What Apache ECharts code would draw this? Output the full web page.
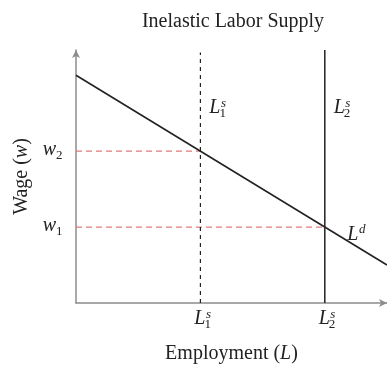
<!DOCTYPE html>
<html>
<head>
<meta charset="utf-8">
<script src="https://cdn.jsdelivr.net/npm/echarts@6/dist/echarts.min.js"></script>
<style>
  html, body { margin: 0; padding: 0; background: #ffffff; }
  #chart { width: 387px; height: 369px; }
</style>
</head>
<body>
<div id="chart"></div>
<script>
// ---- data ----
const titleText = 'Inelastic Labor Supply';
const xAxisName = 'Employment';
const xAxisVar = 'L';
const yAxisName = 'Wage';
const yAxisVar = 'w';
const supplyX = [4, 8];          // L1s, L2s
const supplyIdx = ['1', '2'];
const supplyTopY = [9.9, 10];    // top of each supply line
const wageY = [3, 6];            // w1, w2
const wageIdx = ['1', '2'];
const wageEndX = [8, 4];         // where each wage line meets demand
const demandX = [0, 10];
const demandY = [9, 1.5];
const demandLabelX = 9;

const SERIF = '"Liberation Serif", "DejaVu Serif", serif';
const INK = '#222222';
const demandAt = x => demandY[0] + (demandY[1] - demandY[0]) * (x - demandX[0]) / (demandX[1] - demandX[0]);

// math-style labels (base letter with super/subscript)
const mathLabels = [];
supplyX.forEach((x, i) => mathLabels.push({ at: [x, 0], base: 'L', sup: 's', sub: supplyIdx[i], dx: 5, dy: 16 }));
supplyX.forEach((x, i) => mathLabels.push({ at: [x, 7.7], base: 'L', sup: 's', sub: supplyIdx[i], dx: 20, dy: 0 }));
wageY.forEach((y, i) => mathLabels.push({ at: [0, y], base: 'w', sub: wageIdx[i], dx: -20, dy: -1, subDy: 5 }));
mathLabels.push({ at: [demandLabelX, demandAt(demandLabelX)], base: 'L', sup: 'd', dx: 2.5, dy: -11.5 });

const chart = echarts.init(document.getElementById('chart'), null, { renderer: 'canvas' });

function seg(p0, p1) { return [p0, p1]; }

const option = {
  animation: false,
  backgroundColor: '#ffffff',
  title: {
    text: titleText,
    left: 233,
    top: 12,
    textAlign: 'center',
    padding: 0,
    textStyle: { fontFamily: SERIF, fontSize: 20, fontWeight: 'normal', color: INK }
  },
  grid: { left: 76, top: 50, width: 315, height: 260, containLabel: false },
  xAxis: {
    type: 'value', min: 0, max: 10,
    name: xAxisName + ' ({v|' + xAxisVar + '})',
    nameLocation: 'middle', nameGap: 41,
    nameTextStyle: {
      fontFamily: SERIF, fontSize: 20, color: INK,
      rich: { v: { fontFamily: SERIF, fontStyle: 'italic', fontSize: 20, color: INK } }
    },
    axisLine: { show: true, symbol: ['none', 'arrow'], symbolSize: [6, 8], lineStyle: { color: '#8c8c8c', width: 1.5 } },
    axisTick: { show: false }, axisLabel: { show: false }, splitLine: { show: false }
  },
  yAxis: {
    type: 'value', min: 0, max: 10,
    name: yAxisName + ' ({v|' + yAxisVar + '})',
    nameLocation: 'middle', nameGap: 44, nameRotate: 90,
    nameTextStyle: {
      fontFamily: SERIF, fontSize: 20, color: INK,
      rich: { v: { fontFamily: SERIF, fontStyle: 'italic', fontSize: 20, color: INK } }
    },
    axisLine: { show: true, onZero: false, symbol: ['none', 'arrow'], symbolSize: [6, 8], lineStyle: { color: '#8c8c8c', width: 1.5 } },
    axisTick: { show: false }, axisLabel: { show: false }, splitLine: { show: false }
  },
  series: [
    // red dashed wage guides
    ...wageY.map((y, i) => ({
      type: 'line', data: seg([0, y], [wageEndX[i], y]), showSymbol: false, silent: true, z: 1,
      lineStyle: { color: '#e07c7c', width: 1.3, type: [6, 4] }
    })),
    {
      type: 'line', data: seg([supplyX[0], 0], [supplyX[0], supplyTopY[0]]), showSymbol: false, silent: true, z: 2,
      lineStyle: { color: INK, width: 1.2, type: [4, 4] }
    },
    {
      type: 'line', data: seg([supplyX[1], 0], [supplyX[1], supplyTopY[1]]), showSymbol: false, silent: true, z: 2,
      lineStyle: { color: INK, width: 1.5, type: 'solid' }
    },
    {
      type: 'line', data: demandX.map((x, i) => [x, demandY[i]]), showSymbol: false, silent: true, z: 3,
      lineStyle: { color: INK, width: 1.6 }
    },
    {
      type: 'custom', silent: true, z: 5, clip: false,
      data: mathLabels.map(m => m.at),
      renderItem(params, api) {
        const m = mathLabels[params.dataIndex];
        const p = api.coord(m.at);
        const jx = p[0] + m.dx, cy = p[1] + m.dy;
        const children = [{
          type: 'text', x: jx, y: cy,
          style: { text: m.base, font: 'italic 20px ' + SERIF, fill: INK, align: 'right', verticalAlign: 'middle' }
        }];
        if (m.sup) children.push({
          type: 'text', x: jx + 0.5, y: cy - 4.5,
          style: { text: m.sup, font: 'italic 13px ' + SERIF, fill: INK, align: 'left', verticalAlign: 'middle' }
        });
        if (m.sub) children.push({
          type: 'text', x: jx - (m.sup ? 1 : 0), y: cy + (m.subDy != null ? m.subDy : 5.5),
          style: { text: m.sub, font: '13px ' + SERIF, fill: INK, align: 'left', verticalAlign: 'middle' }
        });
        return { type: 'group', children };
      }
    }
  ]
};
chart.setOption(option);
</script>
</body>
</html>
